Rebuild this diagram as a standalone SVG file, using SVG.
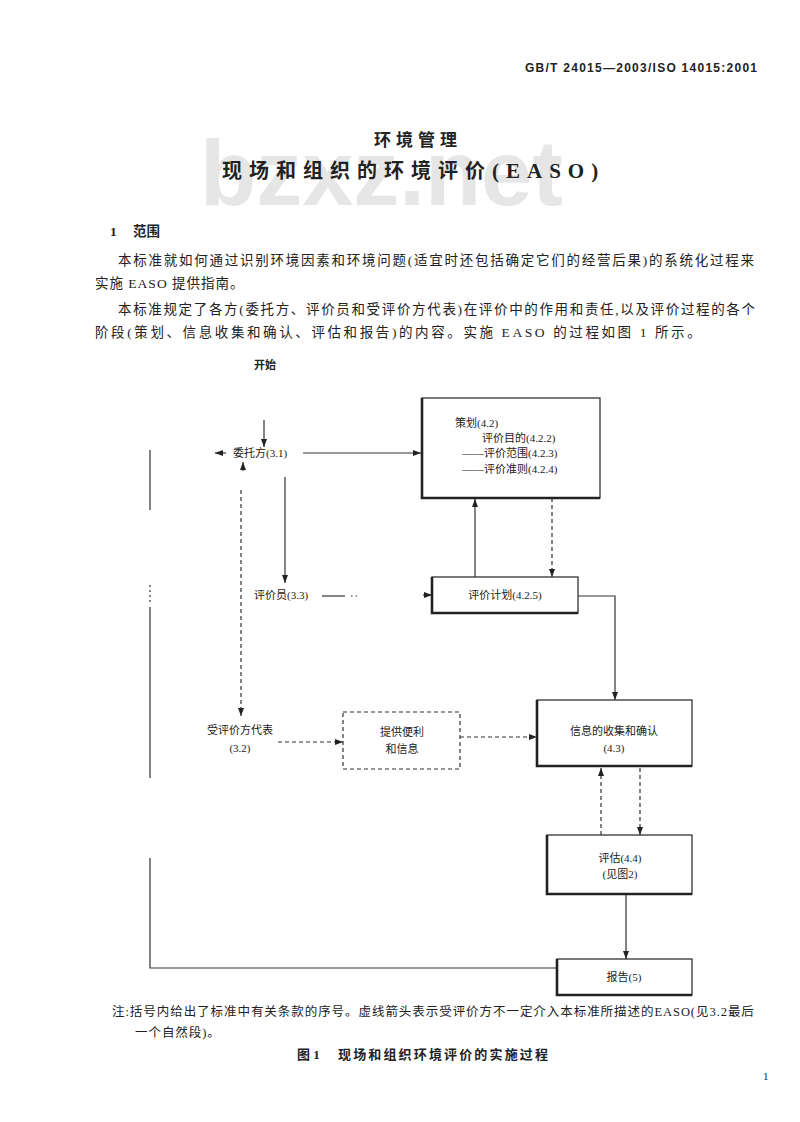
<svg xmlns="http://www.w3.org/2000/svg" width="800" height="1122" viewBox="0 0 800 1122">
<style>
text{font-family:"Liberation Serif","Noto Sans CJK SC",serif;fill:#222;}
.hd{font-size:12px;font-weight:bold;font-family:"Liberation Sans","Noto Sans CJK SC",sans-serif;}
.t1{font-size:17px;font-weight:bold;}
.t2{font-size:20px;font-weight:bold;}
.wm{font-family:"Liberation Sans",sans-serif;font-size:92px;font-weight:bold;fill:#e6e6e6;}
.p{font-size:13.5px;}
.n{font-size:11px;}
.nt{font-size:12.5px;letter-spacing:0.95px;}
.cap{font-size:13px;font-weight:bold;}
.ln{stroke:#333;stroke-width:1.2;fill:none;}
.da{stroke:#333;stroke-width:1.2;fill:none;stroke-dasharray:4,3;}
.box{fill:#fff;stroke:#333;stroke-width:1.3;}
.dbox{fill:#fff;stroke:#333;stroke-width:1.2;stroke-dasharray:4,3;}
.sh{stroke:#222;stroke-width:2.6;fill:none;}
</style>
<defs>
<marker id="ah" markerWidth="8" markerHeight="6" refX="8" refY="3" orient="auto" markerUnits="userSpaceOnUse">
<path d="M0,0 L8,3 L0,6 z" fill="#222"/>
</marker>
</defs>
<rect width="800" height="1122" fill="#fff"/>
<text class="wm" x="200" y="205">bzxz.net</text>
<text class="hd" x="525" y="72" textLength="232">GB/T 24015—2003/ISO 14015:2001</text>
<text class="t1" x="418" y="146" text-anchor="middle" letter-spacing="5">环境管理</text>
<text class="t2" x="222" y="178" letter-spacing="7">现场和组织的环境评价<tspan font-size="21">(EASO)</tspan></text>
<text class="p" x="110" y="236" font-weight="bold">1</text>
<text class="p" x="133" y="236" font-weight="bold">范围</text>
<text class="p" x="118" y="265" textLength="636">本标准就如何通过识别环境因素和环境问题(适宜时还包括确定它们的经营后果)的系统化过程来</text>
<text class="p" x="95" y="288" letter-spacing="1">实施 EASO 提供指南。</text>
<text class="p" x="118" y="314" textLength="637">本标准规定了各方(委托方、评价员和受评价方代表)在评价中的作用和责任,以及评价过程的各个</text>
<text class="p" x="95" y="337" letter-spacing="2.6">阶段(策划、信息收集和确认、评估和报告)的内容。实施 EASO 的过程如图 1 所示。</text>

<g id="connectors">
<line class="ln" x1="264" y1="420" x2="264" y2="447" marker-end="url(#ah)"/>
<line class="ln" x1="303" y1="453" x2="421" y2="453" marker-end="url(#ah)"/>
<line class="ln" x1="226" y1="453" x2="215" y2="453" marker-end="url(#ah)"/>
<line class="ln" x1="243" y1="471" x2="243" y2="462" marker-end="url(#ah)"/>
<line class="ln" x1="285" y1="477" x2="285" y2="583" marker-end="url(#ah)"/>
<line class="da" x1="241" y1="490" x2="241" y2="716" marker-end="url(#ah)"/>
<line class="ln" x1="322" y1="596" x2="345" y2="596"/>
<line class="ln" x1="351" y1="596" x2="360" y2="596" stroke-dasharray="1.5,3"/>
<line class="ln" x1="423" y1="595" x2="432" y2="595" marker-end="url(#ah)"/>
<line class="ln" x1="475" y1="577" x2="475" y2="499" marker-end="url(#ah)"/>
<line class="da" x1="552" y1="498" x2="552" y2="577" marker-end="url(#ah)"/>
<polyline class="ln" points="578,596 615,596 615,700" marker-end="url(#ah)"/>
<line class="da" x1="278" y1="742" x2="343" y2="742" marker-end="url(#ah)"/>
<line class="da" x1="460" y1="737" x2="537" y2="737" marker-end="url(#ah)"/>
<line class="da" x1="601" y1="835" x2="601" y2="768" marker-end="url(#ah)"/>
<line class="da" x1="640" y1="768" x2="640" y2="835" marker-end="url(#ah)"/>
<line class="ln" x1="626" y1="894" x2="626" y2="959" marker-end="url(#ah)"/>
<line class="ln" x1="150" y1="450" x2="150" y2="510"/>
<line class="ln" x1="150" y1="585" x2="150" y2="605" stroke-dasharray="2,3"/>
<line class="ln" x1="150" y1="607" x2="150" y2="778"/>
<polyline class="ln" points="150,858 150,968 557,968"/>
</g>

<g id="start"><text class="n" x="265" y="369" text-anchor="middle" font-weight="bold">开始</text></g>
<g id="client"><text class="n" x="233" y="457">委托方(3.1)</text></g>
<g id="assessor"><text class="n" x="254" y="599">评价员(3.3)</text></g>
<g id="assessee"><text class="n" x="240" y="734" text-anchor="middle">受评价方代表</text><text class="n" x="240" y="752" text-anchor="middle">(3.2)</text></g>

<g id="planning">
<rect class="box" x="422" y="398" width="178" height="100"/>
<polyline class="sh" points="422,398 422,498 600,498"/>
<text class="n" x="455" y="427">策划(4.2)</text>
<text class="n" x="482" y="442">评价目的(4.2.2)</text>
<text class="n" x="462" y="457">——评价范围(4.2.3)</text>
<text class="n" x="462" y="473">——评价准则(4.2.4)</text>
</g>

<g id="plan">
<rect class="box" x="432" y="577" width="146" height="36"/>
<polyline class="sh" points="432,577 432,613 578,613"/>
<text class="n" x="505" y="599" text-anchor="middle">评价计划(4.2.5)</text>
</g>

<g id="facilitate">
<rect class="dbox" x="343" y="712" width="117" height="57"/>
<text class="n" x="402" y="736" text-anchor="middle">提供便利</text>
<text class="n" x="402" y="753" text-anchor="middle">和信息</text>
</g>

<g id="info">
<rect class="box" x="537" y="700" width="155" height="66"/>
<polyline class="sh" points="537,700 537,766 692,766"/>
<text class="n" x="614" y="735" text-anchor="middle">信息的收集和确认</text>
<text class="n" x="614" y="752" text-anchor="middle">(4.3)</text>
</g>

<g id="evaluation">
<rect class="box" x="547" y="835" width="145" height="59"/>
<polyline class="sh" points="547,835 547,894 692,894"/>
<text class="n" x="620" y="862" text-anchor="middle">评估(4.4)</text>
<text class="n" x="620" y="878" text-anchor="middle">(见图2)</text>
</g>

<g id="report">
<rect class="box" x="557" y="959" width="135" height="36"/>
<polyline class="sh" points="557,959 557,995 692,995"/>
<text class="n" x="624" y="981" text-anchor="middle">报告(5)</text>
</g>

<text class="nt" x="112" y="1016">注:括号内给出了标准中有关条款的序号。虚线箭头表示受评价方不一定介入本标准所描述的EASO(见3.2最后</text>
<text class="nt" x="135" y="1037">一个自然段)。</text>
<text class="cap" x="297" y="1059">图 1</text>
<text class="cap" x="338" y="1059" textLength="210">现场和组织环境评价的实施过程</text>
<text class="n" x="763" y="1080">1</text>
</svg>
